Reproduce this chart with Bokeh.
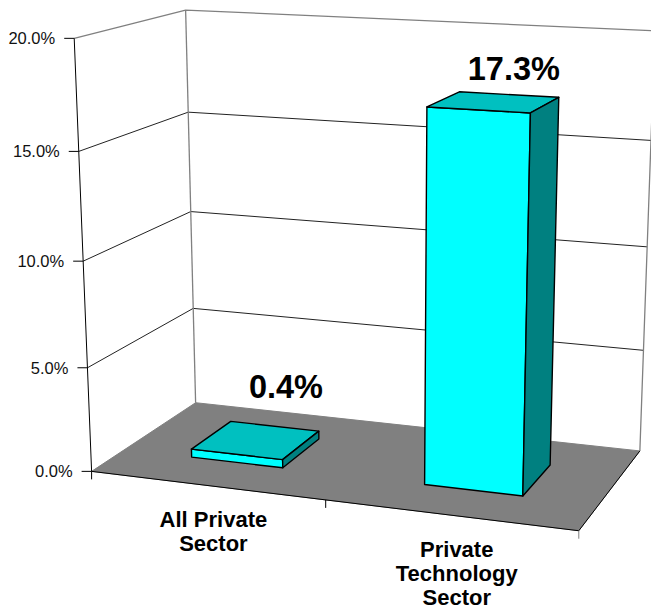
import numpy as np
from bokeh.plotting import figure
from bokeh.models import Range1d
from bokeh.core.properties import value
from bokeh.embed import file_html
from bokeh.resources import INLINE

# ---- chart data ----
categories = ["All Private\nSector", "Private\nTechnology\nSector"]
values = [0.4, 17.3]
value_labels = ["0.4%", "17.3%"]
y_ticks = [0, 5, 10, 15, 20]
y_tick_labels = ["0.0%", "5.0%", "10.0%", "15.0%", "20.0%"]

# ---- layout: calibration of the 3-D view (category, depth, value) -> page pixel ----
calib_world = [
    (0,0,0),(0,0,5),(0,0,10),(0,0,15),(0,0,20),
    (0,1,0),(0,1,5),(0,1,10),(0,1,15),(0,1,20),
    (2,1,0),(2,1,5),(2,1,10),(2,1,15),(2,1,20),
    (2,0,0),(1,0,0),
    (1.3,.3,17.3),(1.7,.3,17.3),(1.7,.7,17.3),(1.3,.7,17.3),
    (1.3,.3,0),(1.7,.3,0),(1.7,.7,0),
]
calib_page = [
    (91,470),(87,367.5),(82.5,261),(78,151),(73.5,38),
    (195,402),(193,308),(190,211),(188,112),(185,9.5),
    (640,451),(643.3,350),(646.7,247),(649.5,140),(652.5,29),
    (578,530),(325,499.5),
    (427,106.5),(531,113),(559,97),(460,91),
    (423.5,484),(522,495.5),(550,464),
]

def fit_camera(world, page):
    rows = []
    for (a, b, c), (u, v) in zip(world, page):
        w = [a, b, c / 20.0, 1.0]
        rows.append(w + [0, 0, 0, 0] + [-u * t for t in w])
        rows.append([0, 0, 0, 0] + w + [-v * t for t in w])
    _, _, vt = np.linalg.svd(np.array(rows, float))
    return vt[-1].reshape(3, 4)

CAM = fit_camera(calib_world, calib_page)

def proj(a, b, c):
    h = CAM @ np.array([a, b, c / 20.0, 1.0])
    return float(h[0] / h[2]), float(h[1] / h[2])

def poly(*pts):
    xy = [proj(*q) for q in pts]
    return [q[0] for q in xy], [q[1] for q in xy]

W, H = 651, 609
BAR_HALF = 0.2
Z0, Z1 = 0.3, 0.7
TICK = 10
SANS = value("Liberation Sans")

p = figure(width=W, height=H, x_range=Range1d(0, W), y_range=Range1d(H, 0),
           output_backend="svg", toolbar_location=None, min_border=0)
p.axis.visible = False
p.grid.visible = False
p.outline_line_color = None
p.background_fill_color = "white"
p.border_fill_color = "white"

vmax = y_ticks[-1]

# gridlines on the side wall and the back wall
for t in y_ticks[1:-1]:
    xs, ys = poly((0,0,t),(0,1,t),(2,1,t))
    p.line(xs, ys, line_color="#222222", line_width=1)

# wall edges
xs, ys = poly((0,0,vmax),(0,1,vmax),(2,1,vmax),(2,1,0))
p.line(xs, ys, line_color="#808080", line_width=1.3)
xs, ys = poly((0,1,vmax),(0,1,0))
p.line(xs, ys, line_color="#808080", line_width=1.3)

# floor
xs, ys = poly((0,0,0),(2,0,0),(2,1,0),(0,1,0))
p.patch(xs, ys, fill_color="#808080", line_color="#808080", line_width=1)
xs, ys = poly((0,0,0),(2,0,0),(2,1,0))
p.line(xs, ys, line_color="black", line_width=1)

# value axis and ticks
xs, ys = poly((0,0,vmax),(0,0,0))
p.line(xs, ys, line_color="black", line_width=1)
for t, lab in zip(y_ticks, y_tick_labels):
    x, y = proj(0, 0, t)
    p.line([x - TICK, x], [y, y], line_color="black", line_width=1)
    p.text([x - TICK - 9], [y], text=[lab], text_align="right", text_baseline="middle",
           text_font=SANS, text_font_size="16.5px", text_color="#111111")

# category ticks
for k in range(len(categories) + 1):
    x, y = proj(k, 0, 0)
    p.line([x, x], [y, y + 8], line_color="#808080" if k == 2 else "black", line_width=1)

# bars
for k, v in enumerate(values):
    c0, c1 = k + 0.5 - BAR_HALF, k + 0.5 + BAR_HALF
    faces = [
        (poly((c0,Z0,0),(c1,Z0,0),(c1,Z0,v),(c0,Z0,v)), "#00FFFF"),
        (poly((c0,Z0,v),(c1,Z0,v),(c1,Z1,v),(c0,Z1,v)), "#00C0C0"),
        (poly((c1,Z0,0),(c1,Z1,0),(c1,Z1,v),(c1,Z0,v)), "#008080"),
    ]
    for (xs, ys), col in faces:
        p.patch(xs, ys, fill_color=col, line_color="black", line_width=1.4, line_join="round")

# value labels
label_offsets = [(30, -53), (20, -33)]
for k, (v, lab) in enumerate(zip(values, value_labels)):
    x, y = proj(k + 0.5, 0.5, v)
    dx, dy = label_offsets[k]
    p.text([x + dx], [y + dy], text=[lab], text_align="center", text_baseline="middle",
           text_font=SANS, text_font_style="bold", text_font_size="32.5px", text_color="black")

# category labels
LINE = 24
for k, cat in enumerate(categories):
    x, y = proj(k + 0.5, 0, 0)
    for i, line in enumerate(cat.split("\n")):
        p.text([x + 7], [y + 34.5 + i * LINE], text=[line], text_align="center",
               text_baseline="middle", text_font=SANS, text_font_style="bold",
               text_font_size="22px", text_color="black")

open("out.html", "w").write(file_html(p, INLINE))
